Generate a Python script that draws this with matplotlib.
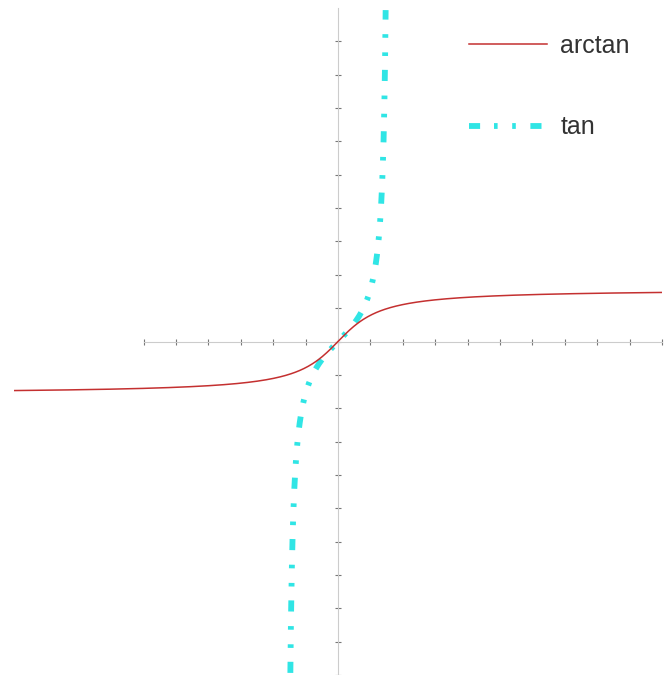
import numpy as np
import matplotlib
matplotlib.use("Agg")
import matplotlib.pyplot as plt

plt.rcParams['font.family'] = ['Liberation Sans', 'DejaVu Sans']
plt.rcParams['lines.scale_dashes'] = False

# data ranges
x_arctan = np.linspace(-10, 10, 600)
x_tan = np.linspace(-1.4705, 1.4705, 600)
x_ticks = list(range(-6, 11))
y_ticks = list(range(-10, 10))
labels = ["arctan", "tan"]

fig = plt.figure(figsize=(6.65, 6.75), dpi=100)
ax = fig.add_axes([14/665, 0, 648/665, 667/675])
ax.set_xlim(-10, 10)
ax.set_ylim(-10, 10)

ax.plot(x_tan, np.tan(x_tan), color='#1ee3e3', lw=4.2, alpha=0.92,
        linestyle=(0, (8.0, 10.0, 2.6, 10.5, 2.6, 10.5)),
        dash_capstyle='butt', label=labels[1], zorder=2)
ax.plot(x_arctan, np.arctan(x_arctan), color='#c43030', lw=1.1,
        label=labels[0], zorder=3)

for s in ['top', 'right']:
    ax.spines[s].set_visible(False)
ax.spines['left'].set_position(('data', 0))
ax.spines['bottom'].set_position(('data', 0))
ax.spines['left'].set_color('#cccccc')
ax.spines['bottom'].set_color('#cccccc')
ax.spines['left'].set_linewidth(0.8)
ax.spines['bottom'].set_linewidth(0.8)
ax.spines['bottom'].set_bounds(-6, 10)
ax.spines['left'].set_bounds(-10, 10)
ax.set_xticks(x_ticks)
ax.set_yticks(y_ticks)
ax.set_xticklabels([])
ax.set_yticklabels([])
ax.tick_params(direction='inout', length=5, width=0.8, color='#777777')
ax.patch.set_visible(False)

h, l = ax.get_legend_handles_labels()
order = [1, 0]
leg = fig.legend([h[i] for i in order], [l[i] for i in order],
                 loc='upper left', bbox_to_anchor=(469/665, 1 - 34/675),
                 bbox_transform=fig.transFigure, frameon=False,
                 fontsize=18, handlelength=3.1, handletextpad=0.55,
                 labelspacing=2.3, borderpad=0, borderaxespad=0,
                 labelcolor='#333333')

fig.savefig('out.png', dpi=100)
